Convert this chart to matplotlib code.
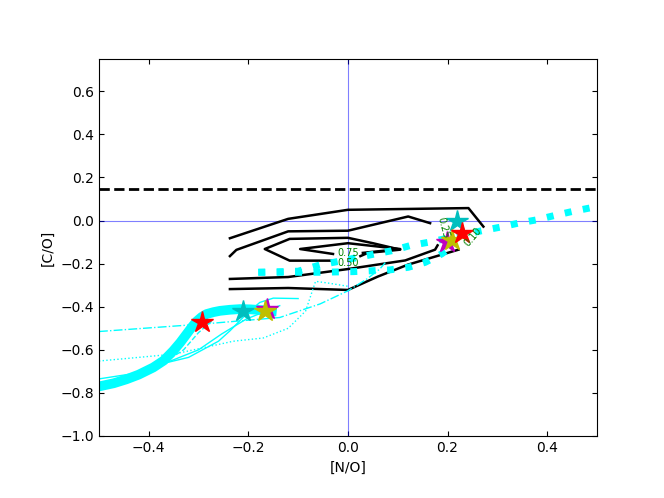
import matplotlib
matplotlib.use("Agg")
import matplotlib.pyplot as plt

# thick model track (solid)
thick_x = [-0.50, -0.47, -0.445, -0.42, -0.391, -0.37, -0.351, -0.337, -0.324, -0.313, -0.304,
           -0.294, -0.284, -0.27, -0.257, -0.237, -0.217, -0.197, -0.177, -0.16, -0.143]
thick_y = [-0.77, -0.755, -0.737, -0.715, -0.682, -0.65, -0.605, -0.567, -0.527, -0.493, -0.468,
           -0.448, -0.434, -0.425, -0.419, -0.414, -0.411, -0.412, -0.415, -0.418, -0.422]

# thick dotted tracks
dotA_x = [-0.18, -0.10, -0.056, -0.018, 0.054, 0.088, 0.125, 0.161, 0.22, 0.269, 0.305, 0.342, 0.378, 0.414, 0.45, 0.50]
dotA_y = [-0.24, -0.235, -0.206, -0.189, -0.155, -0.14, -0.116, -0.101, -0.072, -0.047, -0.031, -0.012, 0.003, 0.023, 0.042, 0.065]
dotB_x = [-0.18, -0.06, 0.011, 0.048, 0.084, 0.121, 0.155, 0.188, 0.215]
dotB_y = [-0.24, -0.24, -0.237, -0.233, -0.229, -0.217, -0.194, -0.155, -0.11]

# thin tracks
dashdot_x = [-0.50, -0.29, -0.137, -0.056, 0.0, 0.038, 0.064, 0.075]
dashdot_y = [-0.515, -0.48, -0.45, -0.387, -0.326, -0.271, -0.225, -0.195]
dotted_x = [-0.50, -0.35, -0.23, -0.17, -0.12, -0.085, -0.072, -0.065, -0.04, 0.0]
dotted_y = [-0.652, -0.62, -0.56, -0.545, -0.50, -0.42, -0.33, -0.282, -0.29, -0.305]
solid1_x = [-0.50, -0.43, -0.365, -0.32, -0.26, -0.237, -0.204, -0.177, -0.15, -0.10]
solid1_y = [-0.735, -0.71, -0.66, -0.635, -0.56, -0.512, -0.434, -0.38, -0.36, -0.362]
solid2_x = [-0.365, -0.30, -0.254, -0.204, -0.137]
solid2_y = [-0.66, -0.60, -0.527, -0.457, -0.395]
dashed_x = [-0.37, -0.33, -0.30, -0.27]
dashed_y = [-0.66, -0.60, -0.52, -0.46]

# contour lines
c1_top_x = [-0.237, -0.12, 0.0, 0.242, 0.272]
c1_top_y = [-0.082, 0.008, 0.05, 0.058, -0.028]
c1_bot_x = [-0.237, -0.12, 0.0, 0.06, 0.12, 0.222]
c1_bot_y = [-0.318, -0.313, -0.322, -0.26, -0.205, -0.135]
c2_top_x = [-0.237, -0.224, -0.12, 0.0, 0.121, 0.165]
c2_top_y = [-0.165, -0.136, -0.05, -0.047, 0.019, -0.012]
c2_bot_x = [-0.237, -0.12, 0.0, 0.115, 0.175, 0.18]
c2_bot_y = [-0.271, -0.262, -0.225, -0.185, -0.135, -0.115]
c3_x = [-0.03, -0.117, -0.167, -0.117, 0.0, 0.05, 0.105, 0.04, 0.025]
c3_y = [-0.186, -0.186, -0.132, -0.085, -0.08, -0.105, -0.135, -0.15, -0.165]
c4_x = [-0.03, -0.096, 0.0, 0.105, 0.03]
c4_y = [-0.155, -0.132, -0.105, -0.132, -0.15]

# stars: colour -> (x list, y list)
star_colors = ['c', 'm', 'y', 'r']
star_x = [[-0.21, 0.22], [-0.162, 0.198], [-0.167, 0.208], [-0.294, 0.23]]
star_y = [[-0.419, -0.003], [-0.412, -0.10], [-0.42, -0.088], [-0.473, -0.058]]

fig = plt.figure(figsize=(6.64, 4.98), dpi=100)
ax = fig.add_axes([0.149, 0.1245, 0.75, 0.757])

ax.axhline(0, color='b', lw=0.8, alpha=0.5)
ax.axvline(0, color='b', lw=0.8, alpha=0.5)
ax.axhline(0.148, color='k', lw=2, ls='--')

for cx, cy in [(c1_top_x, c1_top_y), (c1_bot_x, c1_bot_y), (c2_top_x, c2_top_y),
               (c2_bot_x, c2_bot_y), (c3_x, c3_y), (c4_x, c4_y)]:
    ax.plot(cx, cy, color='k', lw=1.8)
ax.text(0.0, -0.151, '0.75', color='g', fontsize=7, ha='center', va='center')
ax.text(0.0, -0.197, '0.50', color='g', fontsize=7, ha='center', va='center')
ax.text(0.191, -0.035, '0.25', color='g', fontsize=7, ha='center', va='center', rotation=-75)
ax.text(0.252, -0.078, '0.10', color='g', fontsize=7, ha='center', va='center', rotation=50)

ax.plot(thick_x, thick_y, color='cyan', lw=7, solid_capstyle='butt', solid_joinstyle='round')
ax.plot(dashdot_x, dashdot_y, color='cyan', lw=1, ls='-.')
ax.plot(dotted_x, dotted_y, color='cyan', lw=1, ls=':')
ax.plot(solid1_x, solid1_y, color='cyan', lw=1)
ax.plot(solid2_x, solid2_y, color='cyan', lw=1)
ax.plot(dashed_x, dashed_y, color='cyan', lw=1, ls='--')
ax.plot(dotA_x, dotA_y, color='cyan', lw=5, ls=':')
ax.plot(dotB_x, dotB_y, color='cyan', lw=5, ls=':')

for col, sx, sy in zip(star_colors, star_x, star_y):
    ax.plot(sx, sy, ls='none', marker='*', ms=16, color=col, mec=col)

ax.set_xlim(-0.5, 0.5)
ax.set_ylim(-1.0, 0.75)
ax.set_xticks([-0.4, -0.2, 0.0, 0.2, 0.4])
ax.set_yticks([-1.0, -0.8, -0.6, -0.4, -0.2, 0.0, 0.2, 0.4, 0.6])
ax.tick_params(direction='in', top=True, right=True)
ax.set_xlabel('[N/O]')
ax.set_ylabel('[C/O]')

fig.savefig('out.png', dpi=100)
